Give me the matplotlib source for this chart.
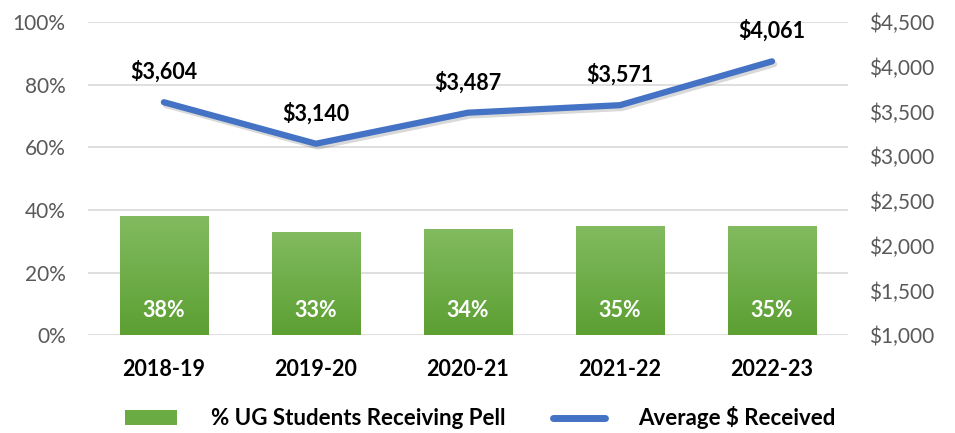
import numpy as np
import matplotlib
matplotlib.use("Agg")
import matplotlib.pyplot as plt
import matplotlib.patheffects as pe
from matplotlib.lines import Line2D
from matplotlib.patches import Patch
from matplotlib.ticker import FuncFormatter

plt.rcParams["font.family"] = ["Lato", "DejaVu Sans"]

years = ["2018-19", "2019-20", "2020-21", "2021-22", "2022-23"]
pct_pell = [38, 33, 34, 35, 35]
avg_award = [3604, 3140, 3487, 3571, 4061]

GREEN_TOP = np.array([0x82, 0xbb, 0x60]) / 255
GREEN_BOT = np.array([0x5c, 0x9f, 0x32]) / 255
BLUE = "#4472c4"
GRAY = "#595959"
BOLD = dict(family="Lato", fontweight="bold")

fig = plt.figure(figsize=(9.55, 4.33), dpi=100)
ax = fig.add_axes([0.092, 0.226, 0.796, 0.723])
x = np.arange(len(years))

# bars with a vertical gradient fill
bars = ax.bar(x, pct_pell, width=0.58, color="none", zorder=2)
grad = np.linspace(0, 1, 256).reshape(-1, 1)
cmap = matplotlib.colors.LinearSegmentedColormap.from_list("g", [GREEN_BOT, GREEN_TOP])
for b in bars:
    x0, w, h = b.get_x(), b.get_width(), b.get_height()
    im = ax.imshow(grad, extent=[x0, x0 + w, 0, h], origin="lower", cmap=cmap,
                   aspect="auto", zorder=2)
    im.set_clip_path(b)
    ax.text(x0 + w / 2, 8, f"{h}%", ha="center", va="center", color="white",
            fontsize=15.5, zorder=4, **BOLD)

ax.set_xlim(-0.5, len(years) - 0.5)
ax.set_ylim(0, 100)
ax.set_yticks(range(0, 101, 20))
ax.yaxis.set_major_formatter(FuncFormatter(lambda v, _: f"{v:.0f}%"))
ax.set_xticks(x)
ax.set_xticklabels(years, fontsize=15.5, **BOLD)
ax.tick_params(axis="y", labelsize=15, labelcolor=GRAY, length=0, pad=16)
ax.tick_params(axis="x", length=0, pad=17)
ax.grid(axis="y", color="#d9d9d9", linewidth=1.2)
ax.set_axisbelow(True)
for s in ax.spines.values():
    s.set_visible(False)

# average award on the secondary axis
ax2 = ax.twinx()
ax2.plot(x, avg_award, color=BLUE, linewidth=4.5, solid_capstyle="round", zorder=3,
         path_effects=[pe.SimpleLineShadow(offset=(1.5, -2), alpha=0.15), pe.Normal()])
for xi, v in zip(x, avg_award):
    ax2.annotate(f"${v:,}", (xi, v), xytext=(0, 22), textcoords="offset points",
                 ha="center", va="center", fontsize=15.5, **BOLD)
ax2.set_ylim(1000, 4500)
ax2.set_yticks(range(1000, 4501, 500))
ax2.yaxis.set_major_formatter(FuncFormatter(lambda v, _: f"${v:,.0f}"))
ax2.tick_params(axis="y", labelsize=15, labelcolor=GRAY, length=0, pad=15)
for s in ax2.spines.values():
    s.set_visible(False)

handles = [Patch(facecolor="#6aab44", edgecolor="none"),
           Line2D([0], [0], color=BLUE, linewidth=5, solid_capstyle="round")]
fig.legend(handles, ["% UG Students Receiving Pell", "Average $ Received"],
           loc="center", bbox_to_anchor=(0.503, 0.035), ncol=2, frameon=False,
           prop={"weight": "bold", "size": 16, "family": "Lato"}, handlelength=2.35,
           handleheight=0.65, handletextpad=1.5, columnspacing=2.15)

fig.savefig("out.png", dpi=100)
